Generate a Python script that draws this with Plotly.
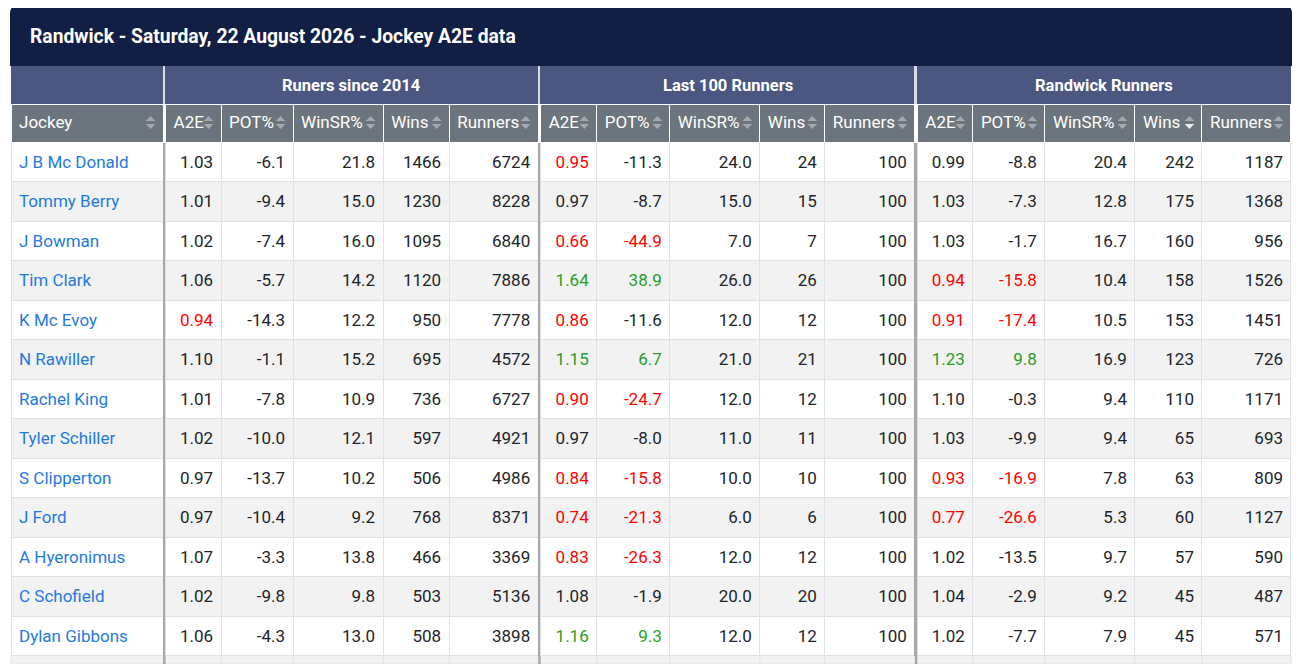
import plotly.graph_objects as go

# ---------------- data ----------------
title_text = "Randwick - Saturday, 22 August 2026 - Jockey A2E data"
group_labels = ["Runers since 2014", "Last 100 Runners", "Randwick Runners"]
metric_labels = ["A2E", "POT%", "WinSR%", "Wins", "Runners"]

jockeys = ["J B Mc Donald", "Tommy Berry", "J Bowman", "Tim Clark", "K Mc Evoy",
           "N Rawiller", "Rachel King", "Tyler Schiller", "S Clipperton", "J Ford",
           "A Hyeronimus", "C Schofield", "Dylan Gibbons"]

# Runners since 2014
g1_a2e = [1.03, 1.01, 1.02, 1.06, 0.94, 1.10, 1.01, 1.02, 0.97, 0.97, 1.07, 1.02, 1.06]
g1_pot = [-6.1, -9.4, -7.4, -5.7, -14.3, -1.1, -7.8, -10.0, -13.7, -10.4, -3.3, -9.8, -4.3]
g1_winsr = [21.8, 15.0, 16.0, 14.2, 12.2, 15.2, 10.9, 12.1, 10.2, 9.2, 13.8, 9.8, 13.0]
g1_wins = [1466, 1230, 1095, 1120, 950, 695, 736, 597, 506, 768, 466, 503, 508]
g1_runners = [6724, 8228, 6840, 7886, 7778, 4572, 6727, 4921, 4986, 8371, 3369, 5136, 3898]

# Last 100 runners
g2_a2e = [0.95, 0.97, 0.66, 1.64, 0.86, 1.15, 0.90, 0.97, 0.84, 0.74, 0.83, 1.08, 1.16]
g2_pot = [-11.3, -8.7, -44.9, 38.9, -11.6, 6.7, -24.7, -8.0, -15.8, -21.3, -26.3, -1.9, 9.3]
g2_winsr = [24.0, 15.0, 7.0, 26.0, 12.0, 21.0, 12.0, 11.0, 10.0, 6.0, 12.0, 20.0, 12.0]
g2_wins = [24, 15, 7, 26, 12, 21, 12, 11, 10, 6, 12, 20, 12]
g2_runners = [100, 100, 100, 100, 100, 100, 100, 100, 100, 100, 100, 100, 100]

# Randwick runners
g3_a2e = [0.99, 1.03, 1.03, 0.94, 0.91, 1.23, 1.10, 1.03, 0.93, 0.77, 1.02, 1.04, 1.02]
g3_pot = [-8.8, -7.3, -1.7, -15.8, -17.4, 9.8, -0.3, -9.9, -16.9, -26.6, -13.5, -2.9, -7.7]
g3_winsr = [20.4, 12.8, 16.7, 10.4, 10.5, 16.9, 9.4, 9.4, 7.8, 5.3, 9.7, 9.2, 7.9]
g3_wins = [242, 175, 160, 158, 153, 123, 110, 65, 63, 60, 57, 45, 45]
g3_runners = [1187, 1368, 956, 1526, 1451, 726, 1171, 693, 809, 1127, 590, 487, 571]

# ---------------- style ----------------
PAGE_OFF = 8              # default body margin of the html page
W, H = 1300 - PAGE_OFF, 664 - PAGE_OFF
FONT = "Roboto"
C_TITLE = "#121e44"
C_GROUP = "#4b5681"
C_HEAD = "#6c757d"
C_ICON = "#a4a9ae"
C_TEXT = "#212529"
C_LINK = "#1f7ae0"
C_RED = "#ff0000"
C_GREEN = "#289e28"
C_ROW = ["#ffffff", "#f2f2f2"]
C_GRID = "#dee2e6"
C_SEP = "#a8a8a8"
CLEAR = "rgba(0,0,0,0)"

tbl_left, tbl_right = 11, 1291
title_top, group_top = 6, 66
head_h = 38
row_h = 39.5
n = len(jockeys)
tbl_bottom = group_top + 2 * head_h + n * row_h
# the text layer sits a few px lower so the text is vertically centred in the grid
text_dy = 2.0
text_head_h = head_h + 1.5

name_w = 152
sep_w = 2.5
metric_w = [[55.5, 72, 90, 66, 89], [56, 73, 90, 65, 90], [55.5, 72, 90, 67, 89]]


def px(x):
    return (x - PAGE_OFF) / W


def py(y):
    return 1 - (y - PAGE_OFF) / H


def a2e_col(v):
    return C_RED if v <= 0.95 else (C_GREEN if v >= 1.15 else C_TEXT)


def pot_col(v):
    return C_RED if v <= -15 else (C_GREEN if v >= 5 else C_TEXT)


groups = [
    (g1_a2e, g1_pot, g1_winsr, g1_wins, g1_runners),
    (g2_a2e, g2_pot, g2_winsr, g2_wins, g2_runners),
    (g3_a2e, g3_pot, g3_winsr, g3_wins, g3_runners),
]

row_fill = [C_ROW[i % 2] for i in range(n)]

col_widths = [name_w]
head_vals = [["", "Jockey"]]
cell_vals = [jockeys]
cell_fonts, cell_fills, cell_lines, aligns = [[C_LINK] * n], [row_fill], [C_GRID], ["left"]
head_fills, head_lines, is_sep = [[C_GROUP, C_HEAD]], [[C_GROUP, "white"]], [False]

for gi, (a2e, pot, winsr, wins, runners) in enumerate(groups):
    # separator column
    col_widths.append(sep_w)
    head_vals.append(["", ""])
    cell_vals.append([""] * n)
    cell_fonts.append([C_TEXT] * n)
    cell_fills.append([C_SEP] * n)
    cell_lines.append(C_SEP)
    aligns.append("left")
    head_fills.append(["#d9dce6", "white"])
    head_lines.append(["#d9dce6", "white"])
    is_sep.append(True)
    cols = [
        ([f"{v:.2f}" for v in a2e], [a2e_col(v) for v in a2e]),
        ([f"{v:.1f}" for v in pot], [pot_col(v) for v in pot]),
        ([f"{v:.1f}" for v in winsr], [C_TEXT] * n),
        ([f"{v}" for v in wins], [C_TEXT] * n),
        ([f"{v}" for v in runners], [C_TEXT] * n),
    ]
    for mi, (vals, fcols) in enumerate(cols):
        col_widths.append(metric_w[gi][mi])
        head_vals.append(["", metric_labels[mi]])
        cell_vals.append(vals)
        cell_fonts.append(fcols)
        cell_fills.append(row_fill)
        cell_lines.append(C_GRID)
        aligns.append("right")
        head_fills.append([C_GROUP, C_HEAD])
        head_lines.append([C_GROUP, "white"])
        is_sep.append(False)

ncol = len(col_widths)
fig = go.Figure()
# grid layer: fills and lines
fig.add_trace(go.Table(
    domain=dict(x=[px(tbl_left), px(tbl_right)],
                y=[py(tbl_bottom + 2), py(group_top)]),
    columnwidth=col_widths,
    header=dict(
        values=[["", ""]] * ncol,
        fill=dict(color=head_fills),
        line=dict(color=head_lines, width=1),
        height=head_h,
    ),
    cells=dict(
        values=[[""] * n] * ncol,
        fill=dict(color=cell_fills),
        line=dict(color=cell_lines, width=1),
        height=row_h,
    ),
))
# text layer
fig.add_trace(go.Table(
    domain=dict(x=[px(tbl_left), px(tbl_right)],
                y=[py(tbl_bottom + 8), py(group_top + text_dy)]),
    columnwidth=col_widths,
    header=dict(
        values=head_vals,
        fill=dict(color=CLEAR),
        line=dict(color=CLEAR, width=0),
        align="left",
        font=dict(family=FONT, size=17, color="white"),
        height=text_head_h,
    ),
    cells=dict(
        values=cell_vals,
        fill=dict(color=CLEAR),
        line=dict(color=CLEAR, width=0),
        align=aligns,
        font=dict(family=FONT, size=17, color=cell_fonts),
        height=row_h,
    ),
))

# column edges in px (computed from the width list)
scale = (tbl_right - tbl_left) / sum(col_widths)
edges = [tbl_left]
for w in col_widths:
    edges.append(edges[-1] + w * scale)

shapes = []
# title bar with rounded top corners
r = 7
x0, x1, y0, y1 = px(tbl_left - 1), px(tbl_right + 1), py(group_top), py(title_top)
rx, ry = r / W, r / H
shapes.append(dict(
    type="path", xref="paper", yref="paper", layer="below",
    path=(f"M {x0},{y0} L {x0},{y1 - ry} Q {x0},{y1} {x0 + rx},{y1} "
          f"L {x1 - rx},{y1} Q {x1},{y1} {x1},{y1 - ry} L {x1},{y0} Z"),
    fillcolor=C_TITLE, line=dict(width=0),
))
# partially visible next row at the bottom
shapes.append(dict(
    type="rect", xref="paper", yref="paper", layer="below",
    x0=px(tbl_left), x1=px(tbl_right), y0=0, y1=py(tbl_bottom),
    fillcolor=C_ROW[n % 2], line=dict(color=C_GRID, width=1),
))
for k in range(ncol):
    if is_sep[k]:
        shapes.append(dict(
            type="rect", xref="paper", yref="paper", layer="below",
            x0=px(edges[k]), x1=px(edges[k + 1]), y0=0, y1=py(tbl_bottom),
            fillcolor=C_SEP, line=dict(width=0),
        ))
    elif k + 1 < ncol and not is_sep[k + 1]:
        shapes.append(dict(
            type="line", xref="paper", yref="paper", layer="below",
            x0=px(edges[k + 1]), x1=px(edges[k + 1]), y0=0, y1=py(tbl_bottom),
            line=dict(color=C_GRID, width=1),
        ))

annotations = [dict(
    text=f"<b>{title_text}</b>", xref="paper", yref="paper",
    x=px(28), y=py((title_top + group_top) / 2), xanchor="left", yanchor="middle",
    showarrow=False, font=dict(family=FONT, size=19.3, color="white"),
)]

# group labels centred across their five columns
ci = 2
for gi, lab in enumerate(group_labels):
    gx0, gx1 = edges[ci], edges[ci + 5]
    annotations.append(dict(
        text=f"<b>{lab}</b>", xref="paper", yref="paper",
        x=px((gx0 + gx1) / 2), y=py(group_top + head_h / 2),
        xanchor="center", yanchor="middle", showarrow=False,
        font=dict(family=FONT, size=16.5, color="white"),
    ))
    ci += 6

# sort icons: two small arrow-head triangles per column header
icon_c = group_top + head_h * 1.5 - 0.5
for k in range(ncol):
    if is_sep[k]:
        continue
    xr = edges[k + 1] - 12.5
    down_col = C_ICON
    if k == ncol - 2:  # active sort: Randwick Wins, descending
        down_col = "#eef0f2"
    for tip_y, ay, colr in ((icon_c - 6.4, 4, C_ICON), (icon_c + 6.4, -4, down_col)):
        annotations.append(dict(
            text="", xref="paper", yref="paper", x=px(xr), y=py(tip_y),
            showarrow=True, ax=0, ay=ay, arrowhead=1, arrowsize=1.6,
            arrowwidth=1, arrowcolor=colr, standoff=0,
        ))

fig.update_layout(
    width=W, height=H,
    margin=dict(l=0, r=0, t=0, b=0),
    paper_bgcolor="white",
    shapes=shapes,
    annotations=annotations,
)

fig.write_html("out.html")
